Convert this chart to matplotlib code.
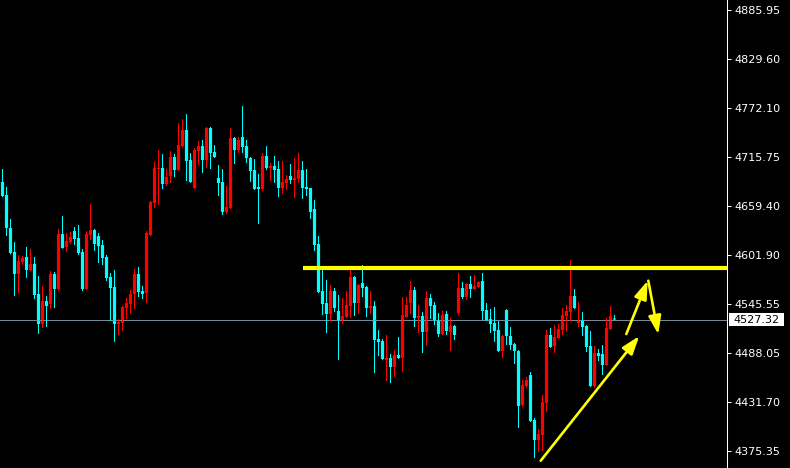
import numpy as np
import matplotlib
matplotlib.use("Agg")
import matplotlib.pyplot as plt
import matplotlib.transforms as mtrans
from matplotlib.patches import Rectangle

# ---------------- data ----------------
opens = [
    4686.7, 4671.6, 4633.3, 4605.6, 4580.1, 4594.0, 4599.8, 4584.7, 4591.7, 4556.9,
    4522.1, 4548.7, 4545.3, 4580.1, 4562.7, 4626.4, 4611.3, 4617.1, 4629.8, 4621.7,
    4605.6, 4562.7, 4625.2, 4631.0, 4624.0, 4613.6, 4599.8, 4576.6, 4565.0, 4522.1,
    4523.3, 4540.6, 4545.3, 4556.9, 4580.1, 4560.3, 4558.0, 4625.2, 4662.3, 4701.7,
    4702.9, 4684.3, 4693.6, 4715.6, 4700.5, 4728.3, 4746.9, 4712.1, 4679.7, 4722.5,
    4728.3, 4712.1, 4749.2, 4721.4, 4691.3, 4686.6, 4651.9, 4656.5, 4737.6, 4723.7,
    4738.8, 4728.3, 4714.4, 4700.5, 4680.9, 4678.5, 4716.8, 4702.9, 4705.2, 4701.7,
    4679.7, 4685.5, 4693.6, 4689.0, 4690.1, 4700.5, 4680.9, 4679.7, 4655.4, 4614.8,
    4560.3, 4546.4, 4533.7, 4560.3, 4537.2, 4525.6, 4530.2, 4542.9, 4576.6, 4546.4,
    4569.6, 4565.0, 4540.6, 4542.9, 4504.7, 4502.4, 4480.4, 4482.7, 4472.3, 4486.2,
    4482.7, 4530.2, 4546.4, 4561.5, 4529.1, 4531.4, 4512.9, 4552.2, 4544.1, 4526.7,
    4510.6, 4533.7, 4512.9, 4519.8, 4534.9, 4563.8, 4553.4, 4568.5, 4562.7, 4565.0,
    4571.9, 4538.3, 4527.9, 4523.3, 4515.2, 4490.8, 4538.3, 4508.2, 4498.9, 4490.8,
    4428.3, 4450.3, 4463.0, 4410.9, 4387.7, 4393.5, 4430.6, 4509.4, 4496.6, 4505.9,
    4515.2, 4531.4, 4536.0, 4554.5, 4523.3, 4526.7, 4519.8, 4496.6, 4450.3, 4488.5,
    4487.4, 4474.6, 4516.3, 4528.5,
]
highs = [
    4701.7, 4680.9, 4643.8, 4617.1, 4602.1, 4600.9, 4611.3, 4609.0, 4599.8, 4577.7,
    4566.1, 4554.5, 4583.5, 4582.4, 4632.2, 4647.2, 4627.5, 4628.7, 4634.5, 4636.8,
    4609.0, 4629.8, 4661.2, 4632.2, 4627.5, 4619.4, 4602.1, 4581.2, 4584.7, 4527.9,
    4542.9, 4552.2, 4561.5, 4585.9, 4588.2, 4566.1, 4629.8, 4664.6, 4709.8, 4723.7,
    4719.1, 4701.7, 4722.5, 4719.1, 4755.0, 4759.6, 4765.4, 4720.2, 4726.0, 4734.1,
    4735.3, 4750.4, 4750.4, 4729.5, 4706.3, 4701.7, 4682.0, 4749.2, 4738.8, 4738.8,
    4774.7, 4735.3, 4715.6, 4713.3, 4695.9, 4720.2, 4728.3, 4708.6, 4716.8, 4711.0,
    4711.0, 4694.7, 4707.5, 4714.4, 4720.2, 4711.0, 4701.7, 4679.7, 4665.8, 4624.0,
    4589.3, 4573.1, 4567.3, 4563.8, 4555.7, 4552.2, 4560.3, 4584.7, 4577.8, 4568.5,
    4590.5, 4566.2, 4560.3, 4548.7, 4515.2, 4504.7, 4509.4, 4487.4, 4492.0, 4507.1,
    4553.4, 4553.4, 4571.9, 4565.0, 4544.1, 4536.0, 4560.3, 4556.9, 4547.6, 4534.8,
    4537.2, 4537.2, 4529.1, 4521.0, 4581.2, 4570.8, 4569.6, 4577.7, 4578.9, 4571.9,
    4581.2, 4546.4, 4539.5, 4541.8, 4525.6, 4509.4, 4539.5, 4518.6, 4500.1, 4492.0,
    4457.2, 4460.7, 4466.5, 4413.2, 4400.5, 4439.9, 4515.2, 4517.5, 4521.0, 4522.1,
    4540.6, 4544.1, 4596.3, 4562.7, 4547.6, 4536.0, 4520.9, 4514.0, 4496.6, 4493.1,
    4497.8, 4529.1, 4542.9, 4532.5,
]
lows = [
    4669.3, 4624.0, 4603.0, 4554.5, 4558.0, 4590.5, 4575.4, 4583.5, 4551.1, 4510.6,
    4517.4, 4518.6, 4539.5, 4540.6, 4560.3, 4609.5, 4605.6, 4614.8, 4613.6, 4602.1,
    4560.3, 4561.5, 4619.4, 4606.7, 4592.8, 4590.5, 4572.0, 4525.6, 4501.3, 4509.4,
    4514.0, 4527.9, 4533.7, 4539.5, 4553.4, 4551.1, 4546.4, 4624.0, 4656.5, 4660.0,
    4678.5, 4682.0, 4685.5, 4692.4, 4699.3, 4726.0, 4687.8, 4685.5, 4678.5, 4706.3,
    4697.1, 4702.9, 4701.7, 4714.4, 4670.4, 4648.4, 4649.6, 4655.4, 4707.5, 4720.2,
    4720.2, 4708.6, 4686.6, 4677.4, 4638.0, 4676.2, 4700.5, 4687.8, 4685.5, 4669.3,
    4672.7, 4677.4, 4684.3, 4668.1, 4685.5, 4667.0, 4670.4, 4643.8, 4606.7, 4558.0,
    4532.5, 4511.7, 4525.6, 4536.0, 4480.4, 4522.1, 4529.0, 4529.0, 4531.4, 4533.7,
    4553.4, 4530.2, 4533.7, 4465.3, 4485.0, 4480.4, 4456.1, 4453.8, 4460.7, 4481.6,
    4466.5, 4529.0, 4533.7, 4518.6, 4511.7, 4488.5, 4496.6, 4527.9, 4520.9, 4507.1,
    4509.4, 4509.4, 4490.8, 4503.6, 4532.5, 4551.1, 4549.9, 4552.2, 4561.5, 4563.8,
    4526.7, 4525.6, 4511.7, 4501.3, 4489.7, 4482.7, 4497.8, 4492.0, 4475.8, 4401.6,
    4426.0, 4448.0, 4408.6, 4366.9, 4373.8, 4375.0, 4420.2, 4494.3, 4488.5, 4504.8,
    4509.4, 4512.9, 4525.6, 4539.5, 4518.6, 4508.2, 4489.7, 4449.1, 4448.0, 4479.2,
    4463.0, 4473.5, 4515.2, 4526.7,
]
closes = [
    4670.4, 4633.3, 4604.4, 4580.1, 4595.1, 4598.6, 4584.7, 4591.7, 4555.7, 4522.1,
    4548.7, 4542.9, 4580.1, 4562.7, 4626.4, 4610.1, 4618.2, 4622.9, 4620.6, 4604.4,
    4562.7, 4626.4, 4631.0, 4614.8, 4612.4, 4598.6, 4575.4, 4563.8, 4522.1, 4524.4,
    4541.8, 4546.4, 4556.9, 4580.1, 4559.2, 4556.9, 4627.5, 4663.5, 4702.9, 4702.9,
    4684.3, 4692.4, 4715.6, 4700.5, 4729.5, 4746.9, 4711.0, 4686.6, 4723.7, 4728.3,
    4712.1, 4749.2, 4720.2, 4715.6, 4685.5, 4651.9, 4657.7, 4737.6, 4723.7, 4735.3,
    4727.2, 4714.4, 4699.4, 4678.5, 4678.5, 4716.8, 4702.9, 4705.2, 4700.5, 4679.7,
    4686.6, 4690.1, 4689.0, 4691.3, 4700.5, 4679.7, 4678.5, 4651.9, 4613.6, 4559.2,
    4545.3, 4533.7, 4560.3, 4540.6, 4525.6, 4531.4, 4544.1, 4576.6, 4546.4, 4567.3,
    4563.8, 4540.6, 4542.9, 4503.6, 4501.3, 4481.6, 4482.7, 4472.3, 4486.2, 4482.7,
    4532.5, 4544.1, 4561.5, 4529.1, 4531.4, 4512.9, 4552.2, 4542.9, 4525.6, 4510.6,
    4532.5, 4514.0, 4519.8, 4509.4, 4563.8, 4553.4, 4568.5, 4562.7, 4566.1, 4570.8,
    4537.2, 4526.7, 4522.1, 4514.0, 4490.8, 4508.2, 4508.2, 4497.8, 4490.8, 4427.1,
    4451.4, 4457.2, 4409.7, 4387.7, 4394.7, 4431.7, 4509.4, 4495.5, 4507.1, 4516.3,
    4532.5, 4537.2, 4554.5, 4540.6, 4526.7, 4518.6, 4495.5, 4450.3, 4488.5, 4485.0,
    4474.6, 4517.5, 4531.4, 4527.32,
]

tick_values = [4885.95, 4829.60, 4772.10, 4715.75, 4659.40, 4601.90,
               4545.55, 4488.05, 4431.70, 4375.35]
tick_labels = ["4885.95", "4829.60", "4772.10", "4715.75", "4659.40", "4601.90",
               "4545.55", "4488.05", "4431.70", "4375.35"]

current_price = 4527.32
resistance_level = 4587.0
resistance_start = 75.1

# arrows: (start_bar, start_price) -> (end_bar, end_price)
arrow_starts = [(134.55, 4363.7), (155.95, 4510.5), (161.45, 4572.3)]
arrow_ends = [(159.2, 4508.2), (161.3, 4572.3), (163.95, 4510.2)]

# ---------------- drawing ----------------
o = np.array(opens); h = np.array(highs); l = np.array(lows); c = np.array(closes)
x = np.arange(len(o))
up = c > o
colors = np.where(up, "#FF0000", "#00FFFF")

fig = plt.figure(figsize=(7.9, 4.68), dpi=100, facecolor="black")
ax = fig.add_axes([0, 0, 727 / 790, 1])
ax.set_facecolor("black")

ymin, ymax = 4355.3, 4897.5
px_price = (ymax - ymin) / 468.0

wicks = ax.vlines(x, l, h, colors=colors, linewidth=0.75, antialiased=True)
wicks.set_snap(False)
body_bottom = np.minimum(o, c)
body_h = np.maximum(np.abs(c - o), px_price)
bars = ax.bar(x, body_h, bottom=body_bottom, width=0.8, color=colors, linewidth=0,
              antialiased=True)
for b in bars:
    b.set_snap(False)

# current price line
ax.axhline(current_price, color="#778899", linewidth=0.75, zorder=1)

xmax = 181.125
ax.plot([resistance_start, xmax], [resistance_level, resistance_level],
        color="#FFFF00", linewidth=3, solid_capstyle="butt", zorder=5)

for s, e in zip(arrow_starts, arrow_ends):
    ax.annotate("", xy=e, xytext=s,
                arrowprops=dict(arrowstyle="-|>,head_length=1.1,head_width=0.38",
                                color="#FFFF00", lw=1.9, mutation_scale=10,
                                shrinkA=0, shrinkB=0), zorder=6)

ax.set_xlim(-0.625, xmax)
ax.set_ylim(ymin, ymax)
ax.set_xticks([])
ax.yaxis.tick_right()
ax.set_yticks(tick_values)
ax.set_yticklabels(tick_labels)
ax.tick_params(axis="y", colors="white", length=2.9, width=0.72, pad=2.2,
               labelsize=8, labelcolor="white")
for side in ["top", "left", "bottom"]:
    ax.spines[side].set_visible(False)
ax.spines["right"].set_color("white")
ax.spines["right"].set_linewidth(0.75)

# current price label box
trans = mtrans.blended_transform_factory(fig.transFigure, ax.transData)
box_h = 13 * px_price
rect = Rectangle((729 / 790, current_price - box_h / 2), 55 / 790, box_h,
                 transform=trans, facecolor="white", edgecolor="none", zorder=10)
fig.add_artist(rect)
fig.text(756.5 / 790, current_price, f"{current_price:.2f}", transform=trans,
         ha="center", va="center", fontsize=8, color="black", zorder=11)

fig.savefig("out.png", dpi=100, facecolor="black")
